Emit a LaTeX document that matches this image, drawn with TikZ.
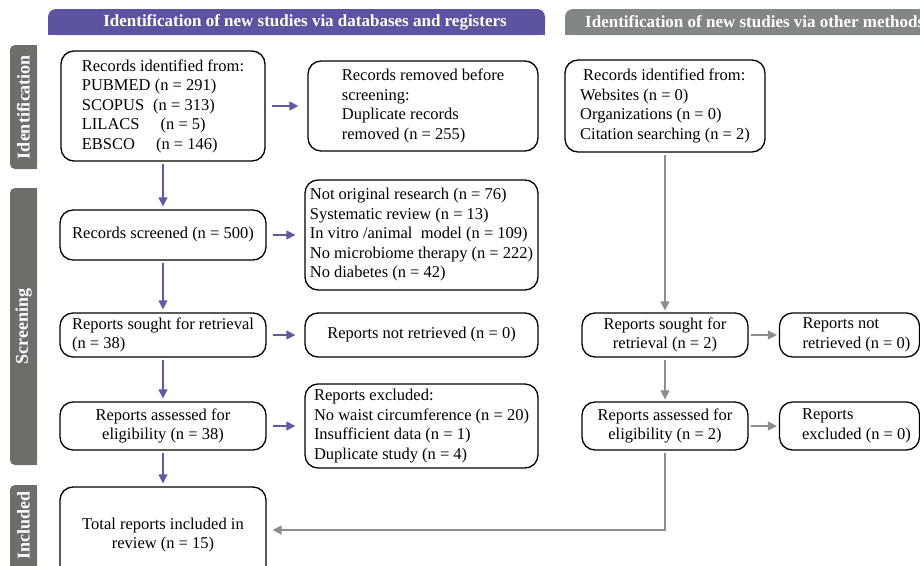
\documentclass[tikz,border=0pt]{standalone}
\usepackage{fontspec}
\setmainfont{Liberation Serif}
\usetikzlibrary{arrows.meta}
\definecolor{dbpurple}{RGB}{92,84,160}
\definecolor{othergrey}{RGB}{130,135,133}
\definecolor{phasegrey}{RGB}{108,110,106}
\definecolor{arrowpurple}{RGB}{98,88,166}
\definecolor{arrowgrey}{RGB}{138,142,142}
\newcommand{\bodyfont}{\fontsize{16.5pt}{19.5pt}\selectfont}
\newcommand{\headfont}{\fontsize{17pt}{20pt}\selectfont\bfseries}
\tikzstyle{box} = [draw, line width=1.3pt, rounded corners=13pt, font=\bodyfont, align=left, inner ysep=0pt]
\tikzstyle{headtext} = [white, font=\headfont, inner sep=0pt]
\tikzstyle{phasetext} = [white, font=\fontsize{18pt}{20pt}\selectfont\bfseries, rotate=90, inner sep=0pt]
\tikzstyle{arrow} = [line width=1.4pt, ->, >={Triangle[length=9pt,width=9pt]}, arrowpurple]
\tikzstyle{sidearrow} = [arrow, shorten <=6pt, shorten >=9pt]
\tikzstyle{downarrow} = [arrow, shorten <=2pt, shorten >=3pt]
\tikzstyle{greyarrow} = [arrow, arrowgrey, shorten <=2pt, shorten >=2pt]

\begin{document}
\begin{tikzpicture}[x=1pt, y=1pt, node distance=100pt]
\useasboundingbox (0,0) rectangle (920,-565);
\clip (0,0) rectangle (920,-565);

% headers
\fill [dbpurple, rounded corners=8pt] (48,-9) rectangle (545,-35);
\fill [dbpurple] (48,-22) rectangle (545,-35);
\node (dbhead) [headtext] at (305,-22) {Identification of new studies via databases and registers};
\fill [othergrey, rounded corners=8pt] (565,-9) rectangle (960,-35);
\fill [othergrey] (565,-22) rectangle (960,-35);
\node (othhead) [headtext, anchor=west] at (585,-22) {Identification of new studies via other methods};

% phases
\fill [phasegrey, rounded corners=5pt] (10,-45) rectangle (37,-169);
\fill [phasegrey] (24,-45) rectangle (37,-169);
\node (idphase) [phasetext] at (23.5,-107) {Identification};
\fill [phasegrey, rounded corners=5pt] (10,-188) rectangle (37,-465);
\fill [phasegrey] (24,-188) rectangle (37,-465);
\node (scphase) [phasetext] at (23.5,-326.5) {Screening};
\fill [phasegrey, rounded corners=5pt] (10,-485) rectangle (37,-580);
\fill [phasegrey] (24,-485) rectangle (37,-580);
\node (inphase) [phasetext] at (23.5,-525) {Included};

% databases and registers
\node (recdb) [box, minimum width=204pt, minimum height=110pt] at (163,-106) {Records identified from:\\PUBMED (n = 291)\\SCOPUS\hspace{9pt}(n = 313)\\LILACS\hspace{21pt}(n = 5)\\EBSCO\hspace{21pt}(n = 146)};
\node (removed) [box, minimum width=230pt, minimum height=90pt, right of=recdb, xshift=160pt] {Records removed before\\screening:\\Duplicate records\\removed (n = 255)};
\node (screened) [box, align=center, minimum width=206pt, minimum height=50pt, below of=recdb, yshift=-29pt] {Records screened (n = 500)};
\node (excl1) [box, minimum width=233pt, minimum height=110pt, right of=screened, xshift=158.5pt] {Not original research (n = 76)\\Systematic review (n = 13)\\In vitro /animal\ \ model (n = 109)\\No microbiome therapy (n = 222)\\No diabetes (n = 42)};
\node (soughtdb) [box, minimum width=206pt, minimum height=44pt, below of=screened] {Reports sought for retrieval\\(n = 38)};
\node (notretr) [box, align=center, minimum width=233pt, minimum height=44pt, right of=soughtdb, xshift=158.5pt] {Reports not retrieved (n = 0)};
\node (assesseddb) [box, align=center, minimum width=206pt, minimum height=48pt, below of=soughtdb, yshift=9pt] {Reports assessed for\\eligibility (n = 38)};
\node (excl2) [box, minimum width=233pt, minimum height=84pt, right of=assesseddb, xshift=158.5pt] {Reports excluded:\\No waist circumference (n = 20)\\Insufficient data (n = 1)\\Duplicate study (n = 4)};
\node (included) [box, align=center, minimum width=206pt, minimum height=96pt, below of=assesseddb, yshift=-9pt] {Total reports included in\\review (n = 15)};

% other methods
\node (recother) [box, minimum width=200pt, minimum height=92pt, right of=removed, xshift=142pt] {\hspace*{3pt}Records identified from:\\Websites (n = 0)\\Organizations (n = 0)\\Citation searching (n = 2)};
\node (soughtot) [box, align=center, minimum width=166pt, minimum height=44pt, right of=notretr, xshift=143.5pt] {Reports sought for\\retrieval (n = 2)};
\node (notretrot) [box, minimum width=140pt, minimum height=44pt, right of=soughtot, xshift=84.5pt] {\hspace*{14pt}Reports not\\\hspace*{14pt}retrieved (n = 0)};
\node (assessedot) [box, align=center, minimum width=166pt, minimum height=48pt, below of=soughtot, yshift=9pt] {Reports assessed for\\eligibility (n = 2)};
\node (exclot) [box, minimum width=140pt, minimum height=48pt, right of=assessedot, xshift=84.5pt] {\hspace*{14pt}Reports\\\hspace*{14pt}excluded (n = 0)};

\draw [sidearrow] (recdb) -- (removed);
\draw [sidearrow] (screened) -- (excl1);
\draw [sidearrow] (soughtdb) -- (notretr);
\draw [sidearrow] (assesseddb) -- (excl2);

\draw [downarrow] (recdb) -- (screened);
\draw [downarrow] (screened) -- (soughtdb);
\draw [downarrow] (soughtdb) -- (assesseddb);
\draw [downarrow] (assesseddb) -- (included);

\draw [greyarrow] (recother) -- (soughtot);
\draw [greyarrow] (soughtot) -- (notretrot);
\draw [greyarrow] (soughtot) -- (assessedot);
\draw [greyarrow] (assessedot) -- (exclot);
\draw [greyarrow, shorten >=6pt] (assessedot) |- ([yshift=5pt]included.east);
\end{tikzpicture}
\end{document}
